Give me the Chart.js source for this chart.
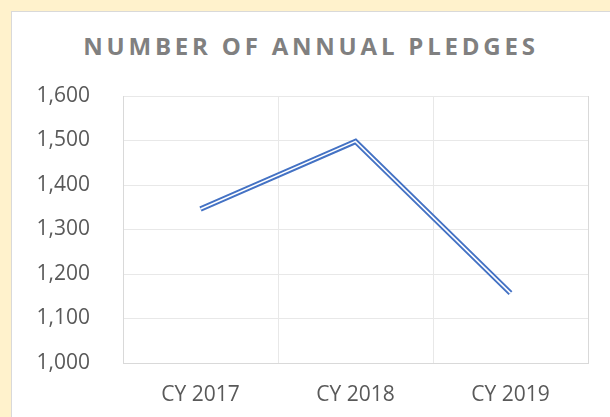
<!DOCTYPE html>
<html>
<head>
<meta charset="utf-8">
<script src="https://cdn.jsdelivr.net/npm/chart.js@4"></script>
<style>
    html, body { margin: 0; padding: 0; }
    body { width: 610px; height: 417px; background: #FFF2CC; position: relative; overflow: hidden; }
    #panel {
        position: absolute; left: 11px; top: 11px; width: 620px; height: 430px;
        background: #fff; border: 1px solid #D9D9D9; box-sizing: border-box;
    }
    #title {
        position: absolute; left: 0; width: 622px; top: 28px; text-align: center;
        font-family: "Open Sans", sans-serif; font-weight: 700; font-size: 24px;
        letter-spacing: 3.8px; color: #808080; line-height: 36px;
    }
    #wrap { position: absolute; left: 0; top: 0; width: 610px; height: 417px; }
</style>
</head>
<body>
<div id="panel"></div>
<div id="title">NUMBER OF ANNUAL PLEDGES</div>
<div id="wrap"><canvas id="pledgesChart"></canvas></div>
<script>
const categories = ['CY 2017', 'CY 2018', 'CY 2019'];
const pledges    = [1346, 1498, 1157];
const yTicks     = [1000, 1100, 1200, 1300, 1400, 1500, 1600];

const lineBlue  = '#4472C4';
const gridColor = '#E8E8E8';
const textColor = '#595959';

const ctx = document.getElementById('pledgesChart');

new Chart(ctx, {
    type: 'line',
    data: {
        labels: categories,
        datasets: [
            // white core on top, blue outer stroke below -> double line look
            {
                data: pledges,
                borderColor: '#ffffff',
                borderWidth: 1.6,
                borderJoinStyle: 'miter',
                pointRadius: 0,
                tension: 0
            },
            {
                data: pledges,
                borderColor: lineBlue,
                borderWidth: 5.5,
                borderJoinStyle: 'miter',
                pointRadius: 0,
                tension: 0
            }
        ]
    },
    options: {
        responsive: true,
        maintainAspectRatio: false,
        animation: false,
        layout: { padding: { top: 96, right: 22, bottom: 0, left: 0 } },
        plugins: {
            legend: { display: false },
            tooltip: { enabled: false }
        },
        scales: {
            x: {
                offset: true,
                grid: { offset: true, color: gridColor, drawTicks: false },
                border: { color: '#D9D9D9' },
                ticks: {
                    padding: 19,
                    color: textColor,
                    font: { family: 'Open Sans', size: 21 }
                },
                afterFit: s => { s.height = 54; }
            },
            y: {
                min: yTicks[0],
                max: yTicks[yTicks.length - 1],
                afterBuildTicks: s => { s.ticks = yTicks.map(v => ({ value: v })); },
                grid: { color: gridColor, drawTicks: false },
                border: { color: '#D9D9D9' },
                ticks: {
                    padding: 33,
                    color: textColor,
                    font: { family: 'Open Sans', size: 21 },
                    callback: v => v.toLocaleString('en-US')
                },
                afterFit: s => { s.width = 123; }
            }
        }
    },
    plugins: [{
        id: 'rightBorder',
        afterDraw(chart) {
            const { ctx, chartArea: a } = chart;
            ctx.save();
            ctx.strokeStyle = '#D9D9D9';
            ctx.lineWidth = 1;
            ctx.beginPath();
            ctx.moveTo(a.right + 0.5, a.top);
            ctx.lineTo(a.right + 0.5, a.bottom);
            ctx.stroke();
            ctx.restore();
        }
    }]
});
</script>
</body>
</html>
